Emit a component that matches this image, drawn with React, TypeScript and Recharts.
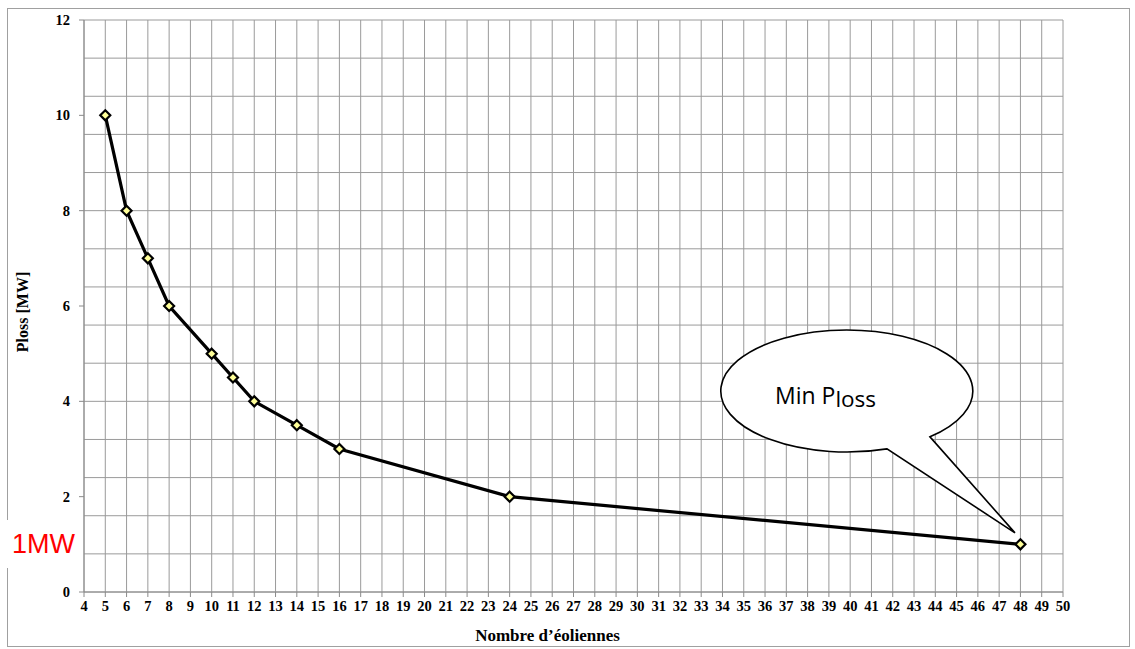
import React from 'react';
import { LineChart, Line, XAxis, YAxis, CartesianGrid, ReferenceDot } from 'recharts';

const turbines = [5, 6, 7, 8, 10, 11, 12, 14, 16, 24, 48];
const plossMW = [10, 8, 7, 6, 5, 4.5, 4, 3.5, 3, 2, 1];
const xTicks = [4,5,6,7,8,9,10,11,12,13,14,15,16,17,18,19,20,21,22,23,24,25,26,27,28,29,30,31,32,33,34,35,36,37,38,39,40,41,42,43,44,45,46,47,48,49,50];
const yTicks = [0, 2, 4, 6, 8, 10, 12];
const yGrid = [0,0.4,0.8,1.2,1.6,2,2.4,2.8,3.2,3.6,4,4.4,4.8,5.2,5.6,6,6.4,6.8,7.2,7.6,8,8.4,8.8,9.2,9.6,10,10.4,10.8,11.2,11.6,12];
const calloutCenter = { x: 39.85, y: 4.22 };
const calloutText = { main: 'Min P', sub: 'loss' };
const xLabel = 'Nombre d\u2019éoliennes';
const yLabel = 'Ploss [MW]';
const sideNote = '1MW';

const data = turbines.map((t, i) => ({ t, p: plossMW[i] }));

const tickStyle = { fontFamily: '"Liberation Serif", serif', fontWeight: 700, fontSize: 14.5, fill: '#000' };

const Diamond = (props: any) => {
  const { cx, cy, index } = props;
  const s = 5;
  return (
    <path
      key={`d-${index}`}
      d={`M${cx},${cy - s} L${cx + s},${cy} L${cx},${cy + s} L${cx - s},${cy} Z`}
      fill="#ffff99"
      stroke="#000"
      strokeWidth={2.2}
    />
  );
};

const Callout = (props: any) => {
  const { cx, cy } = props;
  const rx = 126, ry = 61;
  const A = [cx + 83, cy + 46];
  const B = [cx + 40, cy + 58];
  const tip = [cx + 168, cy + 142];
  const d = `M${A[0]},${A[1]} L${tip[0]},${tip[1]} L${B[0]},${B[1]} A${rx},${ry} 0 1 1 ${A[0]},${A[1]} Z`;
  return (
    <g>
      <path d={d} fill="#fff" stroke="#000" strokeWidth={1.6} strokeLinejoin="miter" />
      <text x={cx - 72} y={cy + 13} fontFamily='"Open Sans", "Noto Sans", sans-serif' fontSize={23} fill="#000">
        {calloutText.main}
        <tspan fontSize={22.5} dy={3}>{calloutText.sub}</tspan>
      </text>
    </g>
  );
};

export default function App() {
  return (
    <div style={{ position: 'absolute', left: 0, top: 0, width: 1135, height: 649, background: '#fff' }}>
      <div style={{ position: 'absolute', left: 7, top: 8, width: 1121, height: 637, border: '1px solid #a0a0a0' }} />
      <div style={{ position: 'absolute', left: 0, top: 0 }}>
        <LineChart width={1135} height={649} data={data} margin={{ top: 20, right: 72, left: 0, bottom: 0 }}>
          <CartesianGrid stroke="#9a9a9a" strokeWidth={1} horizontalValues={yGrid} verticalValues={xTicks} />
          <XAxis
            dataKey="t"
            type="number"
            domain={[4, 50]}
            ticks={xTicks}
            interval={0}
            height={57}
            tickSize={5}
            tickMargin={4}
            stroke="#8a8a8a"
            tick={tickStyle}
            label={{ value: xLabel, position: 'insideBottom', offset: 8, dx: -26, style: { fontFamily: '"Liberation Serif", serif', fontWeight: 700, fontSize: 17, fill: '#000' } }}
          />
          <YAxis
            type="number"
            domain={[0, 12]}
            ticks={yTicks}
            width={84}
            tickSize={5}
            tickMargin={9}
            stroke="#8a8a8a"
            tick={tickStyle}
            label={{ value: yLabel, angle: -90, position: 'insideLeft', offset: 22, dy: 6, style: { textAnchor: 'middle', fontFamily: '"Liberation Serif", serif', fontWeight: 700, fontSize: 16, fill: '#000' } }}
          />
          <Line
            dataKey="p"
            type="linear"
            stroke="#000"
            strokeWidth={3.2}
            dot={Diamond}
            activeDot={false}
            isAnimationActive={false}
          />
          <ReferenceDot x={calloutCenter.x} y={calloutCenter.y} ifOverflow="visible" shape={Callout} />
        </LineChart>
      </div>
      <div style={{ position: 'absolute', left: 3, top: 520, width: 76, height: 48, background: '#fff', color: '#ff0000', fontFamily: '"Liberation Sans", Arial, sans-serif', fontSize: 27, lineHeight: '48px', paddingLeft: 9, boxSizing: 'border-box' }}>
        {sideNote}
      </div>
    </div>
  );
}
